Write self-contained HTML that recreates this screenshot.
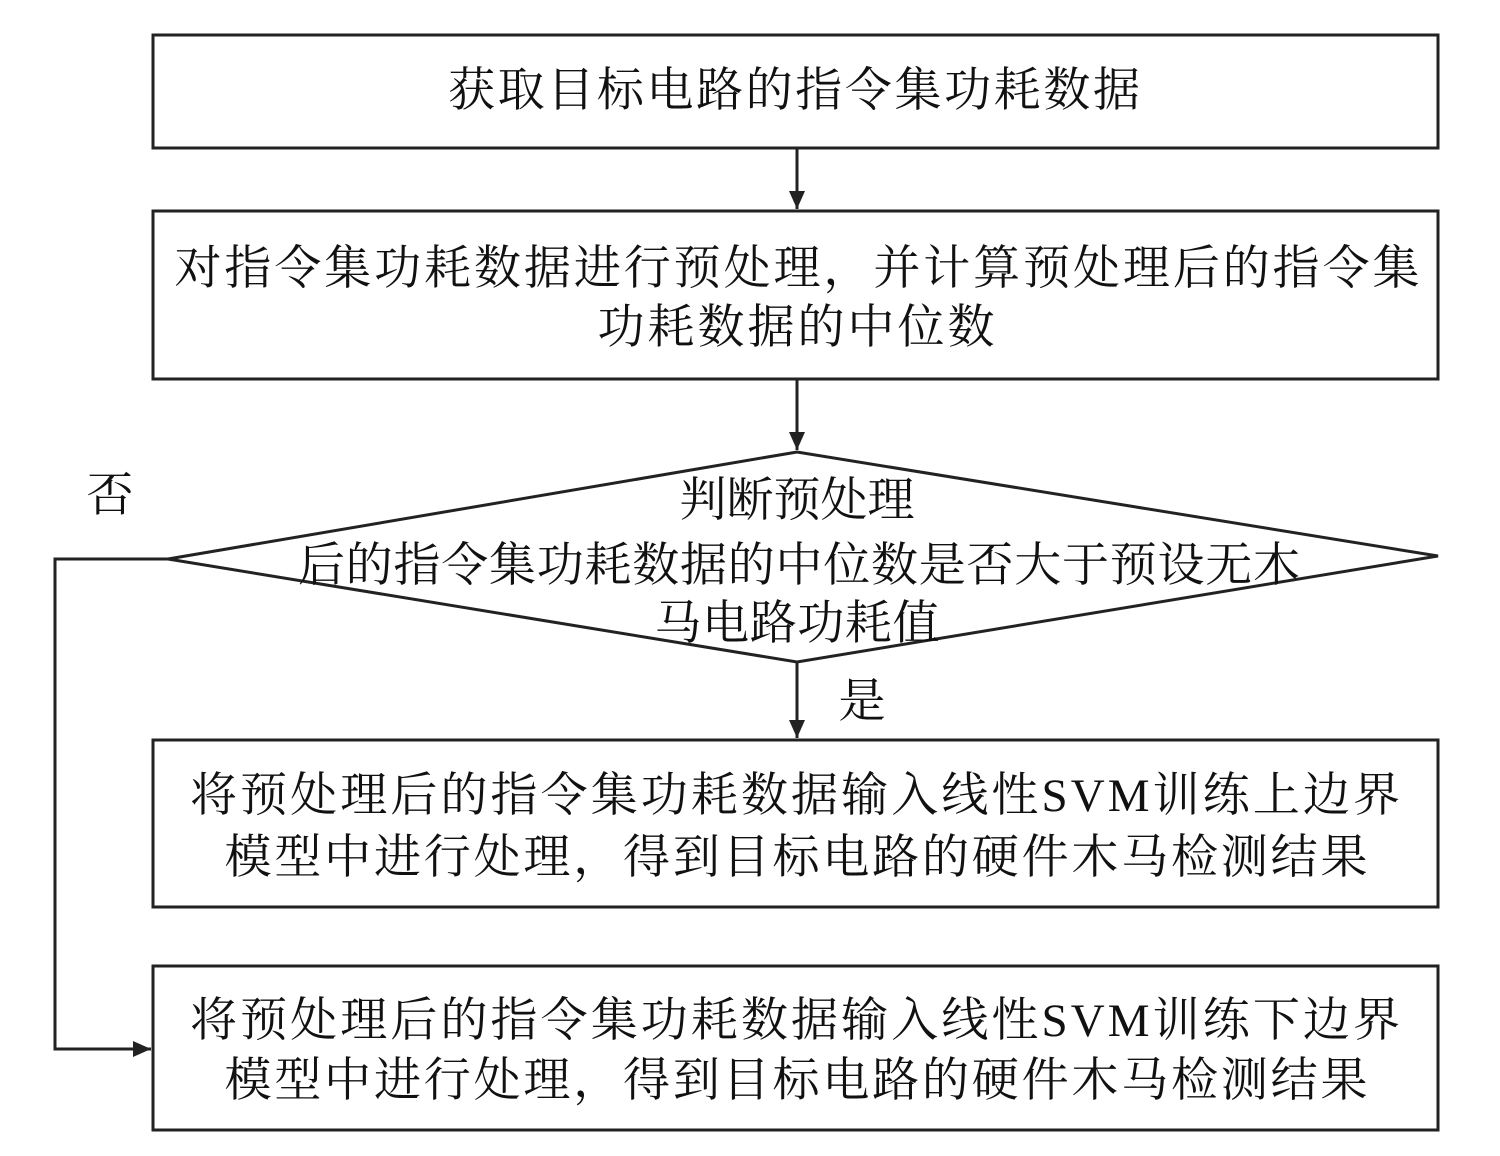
<!DOCTYPE html>
<html><head><meta charset="utf-8"><style>
html,body{margin:0;padding:0;background:#fff;}
svg text{font-family:"Liberation Serif","Noto Serif CJK SC",serif;font-size:47px;fill:#111;text-anchor:middle;}
</style></head><body>
<svg width="1500" height="1151" viewBox="0 0 1500 1151" xmlns="http://www.w3.org/2000/svg">
<defs><marker id="b" markerWidth="18" markerHeight="16" refX="18" refY="8" orient="auto" markerUnits="userSpaceOnUse"><path d="M0,0 L18,8 L0,16 z" fill="#222"/></marker></defs>
<g stroke="#222" stroke-width="3" fill="none">
<rect x="153" y="35" width="1285" height="113"/>
<rect x="153" y="211" width="1285" height="168"/>
<polygon points="168,559 797,452 1438,556 797,662"/>
<rect x="153" y="740" width="1285" height="167"/>
<rect x="153" y="966" width="1285" height="164"/>
<line x1="797" y1="148" x2="797" y2="209" marker-end="url(#b)"/>
<line x1="797" y1="379" x2="797" y2="450" marker-end="url(#b)"/>
<line x1="797" y1="662" x2="797" y2="738" marker-end="url(#b)"/>
<polyline points="168,559 55,559 55,1049 151,1049" marker-end="url(#b)"/>
</g>
<g lengthAdjust="spacing">
<text x="794" y="106" textLength="692" lengthAdjust="spacing">获取目标电路的指令集功耗数据</text>
<text x="797" y="284" textLength="1245" lengthAdjust="spacing">对指令集功耗数据进行预处理，并计算预处理后的指令集</text>
<text x="796" y="343" textLength="397" lengthAdjust="spacing">功耗数据的中位数</text>
<text x="797" y="516" textLength="235" lengthAdjust="spacing">判断预处理</text>
<text x="799" y="581" textLength="1002" lengthAdjust="spacing">后的指令集功耗数据的中位数是否大于预设无木</text>
<text x="797" y="639" textLength="285" lengthAdjust="spacing">马电路功耗值</text>
<text x="110" y="511">否</text>
<text x="862" y="717">是</text>
<text x="795" y="811" textLength="1210" lengthAdjust="spacing">将预处理后的指令集功耗数据输入线性SVM训练上边界</text>
<text x="796" y="873" textLength="1143" lengthAdjust="spacing">模型中进行处理，得到目标电路的硬件木马检测结果</text>
<text x="795" y="1036" textLength="1210" lengthAdjust="spacing">将预处理后的指令集功耗数据输入线性SVM训练下边界</text>
<text x="796" y="1096" textLength="1143" lengthAdjust="spacing">模型中进行处理，得到目标电路的硬件木马检测结果</text>
</g>
</svg>
</body></html>
